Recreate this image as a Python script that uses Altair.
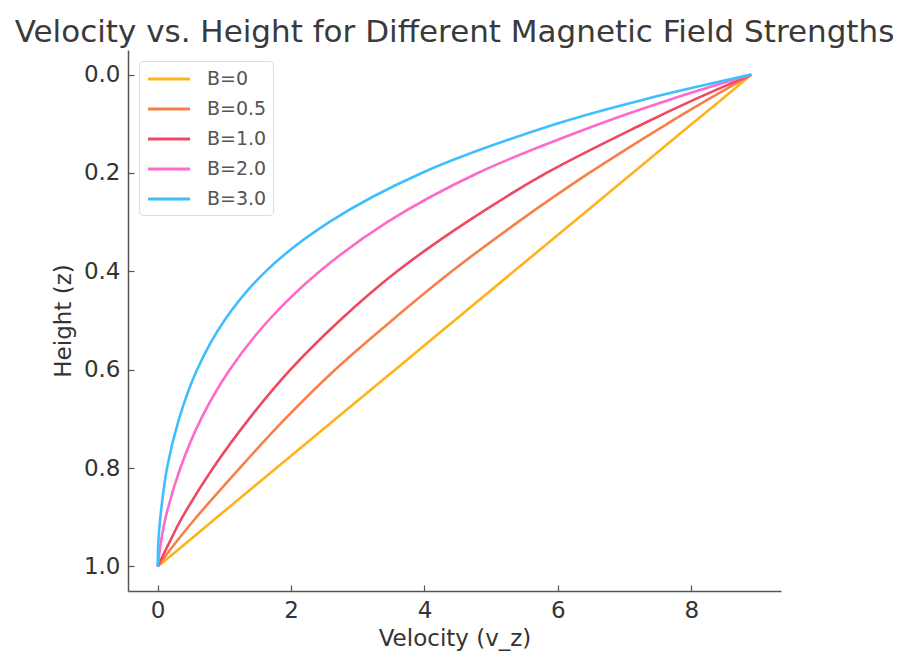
import altair as alt
import pandas as pd

# Height levels (z) at which the curves were read
heights = [0.0, 0.05, 0.1, 0.2, 0.3, 0.4, 0.5, 0.6, 0.7, 0.8, 0.9, 0.95, 1.0]

# Velocity (v_z) read for each magnetic field strength
v_b0 = [8.9, 8.46, 8.01, 7.12, 6.23, 5.34, 4.45, 3.56, 2.67, 1.78, 0.89, 0.45, 0.0]
v_b05 = [8.9, 8.26, 7.64, 6.47, 5.40, 4.41, 3.51, 2.66, 1.91, 1.23, 0.58, 0.28, 0.0]
v_b10 = [8.9, 8.06, 7.28, 5.83, 4.63, 3.59, 2.73, 1.99, 1.37, 0.83, 0.37, 0.18, 0.0]
v_b20 = [8.9, 7.70, 6.63, 4.80, 3.44, 2.43, 1.66, 1.08, 0.65, 0.34, 0.12, 0.05, 0.0]
v_b30 = [8.9, 7.31, 5.98, 3.96, 2.57, 1.62, 1.00, 0.59, 0.32, 0.14, 0.04, 0.01, 0.0]

series_labels = ["B=0", "B=0.5", "B=1.0", "B=2.0", "B=3.0"]
series_values = [v_b0, v_b05, v_b10, v_b20, v_b30]
colors = ["#FFB31A", "#F7804A", "#EE4862", "#FF6AC8", "#3DBFFF"]

x_ticks = [0, 2, 4, 6, 8]
y_ticks = [0.0, 0.2, 0.4, 0.6, 0.8, 1.0]

rows = []
for label, vals in zip(series_labels, series_values):
    for i, (z, v) in enumerate(zip(heights, vals)):
        rows.append({"B": label, "v": v, "z": z, "i": i})
df = pd.DataFrame(rows)

FONT = "DejaVu Sans"

chart = (
    alt.Chart(df)
    .mark_line(strokeWidth=2.6, interpolate="catmull-rom")
    .encode(
        x=alt.X(
            "v:Q",
            scale=alt.Scale(domain=[-0.445, 9.345], nice=False, zero=False),
            axis=alt.Axis(values=x_ticks, format="d", title="Velocity (v_z)",
                          titlePadding=5),
        ),
        y=alt.Y(
            "z:Q",
            scale=alt.Scale(domain=[-0.05, 1.05], reverse=True, nice=False, zero=False),
            axis=alt.Axis(values=y_ticks, format=".1f", title="Height (z)",
                          titlePadding=8),
        ),
        color=alt.Color(
            "B:N",
            sort=series_labels,
            scale=alt.Scale(domain=series_labels, range=colors),
            legend=alt.Legend(
                title=None,
                orient="none",
                legendX=11,
                legendY=11,
                symbolType="M-2,0H2",
                symbolSize=441,
                symbolStrokeWidth=3,
                symbolOffset=12,
                labelOffset=26,
                labelFontSize=19,
                labelFont=FONT,
                labelColor="#555555",
                rowPadding=8,
                padding=6,
                strokeColor="#DDDDDD",
                fillColor="white",
                cornerRadius=4,
            ),
        ),
        order=alt.Order("i:Q", sort="descending"),
    )
    .properties(
        width=653,
        height=541,
        autosize=alt.AutoSizeParams(type="none"),
        padding={"left": 120, "top": 42, "right": 116, "bottom": 62},
        title=alt.TitleParams(
            "Velocity vs. Height for Different Magnetic Field Strengths",
            font=FONT,
            fontSize=31,
            fontWeight="normal",
            color="#3A3A3A",
            anchor="middle",
            offset=1,
        ),
    )
    .configure_view(stroke=None)
    .configure_axis(
        grid=False,
        domainColor="#555555",
        domainWidth=1.5,
        tickColor="#555555",
        tickWidth=1.2,
        tickSize=alt.ExprRef("-6"),
        labelPadding=14,
        labelFont=FONT,
        labelFontSize=23,
        labelColor="#333333",
        titleFont=FONT,
        titleFontSize=23,
        titleFontWeight="normal",
        titleColor="#333333",
    )
)

chart.save("out.html", embed_options={"renderer": "svg", "actions": False})
